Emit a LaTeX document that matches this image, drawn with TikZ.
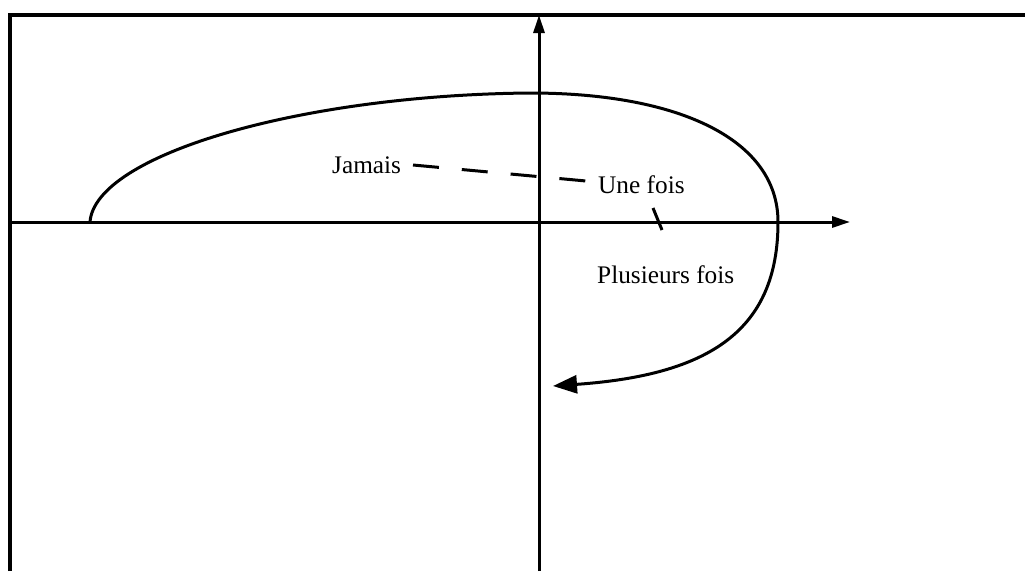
\documentclass[tikz,border=0pt]{standalone}
\usepackage{fontspec}
\setmainfont{Liberation Serif}
\usetikzlibrary{arrows.meta}
\begin{document}
\begin{tikzpicture}[x=1pt,y=-1pt,
  frameline/.style={line width=4pt},
  axisline/.style={line width=3pt,-{Triangle[length=18pt,width=11pt]}},
  curveline/.style={line width=3pt,-{Triangle[length=24pt,width=18pt]}},
  dashline/.style={line width=3pt,dash pattern=on 26pt off 23pt},
  lbl/.style={inner sep=0pt,anchor=base west,font=\fontsize{25.3}{30}\selectfont}]
\useasboundingbox (0,0) rectangle (1025,571);
% frame
\coordinate (fbl) at (10,571);
\coordinate (ftl) at (10,15);
\coordinate (ftr) at (1025,15);
\draw[frameline] (fbl) -- (ftl) -- (ftr);
% axes
\coordinate (xs) at (10,222);
\coordinate (xe) at (850,222);
\coordinate (ys) at (539,571);
\coordinate (ye) at (539,15);
\draw[axisline] (xs) -- (xe);
\draw[axisline] (ys) -- (ye);
% curve
\coordinate (c0) at (90,222);
\coordinate (c1) at (530,93);
\coordinate (c2) at (778,222);
\coordinate (c3) at (553,386);
\draw[curveline] (c0) .. controls (95,155) and (300,95) .. (c1)
  .. controls (680,93) and (778,140) .. (c2)
  .. controls (778,330) and (710,375) .. (c3);
% labels
\node[lbl] (jamais) at (332,173) {Jamais};
\node[lbl] (une) at (598,193) {Une fois};
\node[lbl] (plus) at (597,283) {Plusieurs fois};
% dashed connector
\coordinate (d1) at (413,165);
\coordinate (d2) at (586,181);
\draw[dashline] (d1) -- (d2);
% tick
\coordinate (t1) at (653,208);
\coordinate (t2) at (662,230);
\draw[line width=3pt] (t1) -- (t2);
\end{tikzpicture}
\end{document}
